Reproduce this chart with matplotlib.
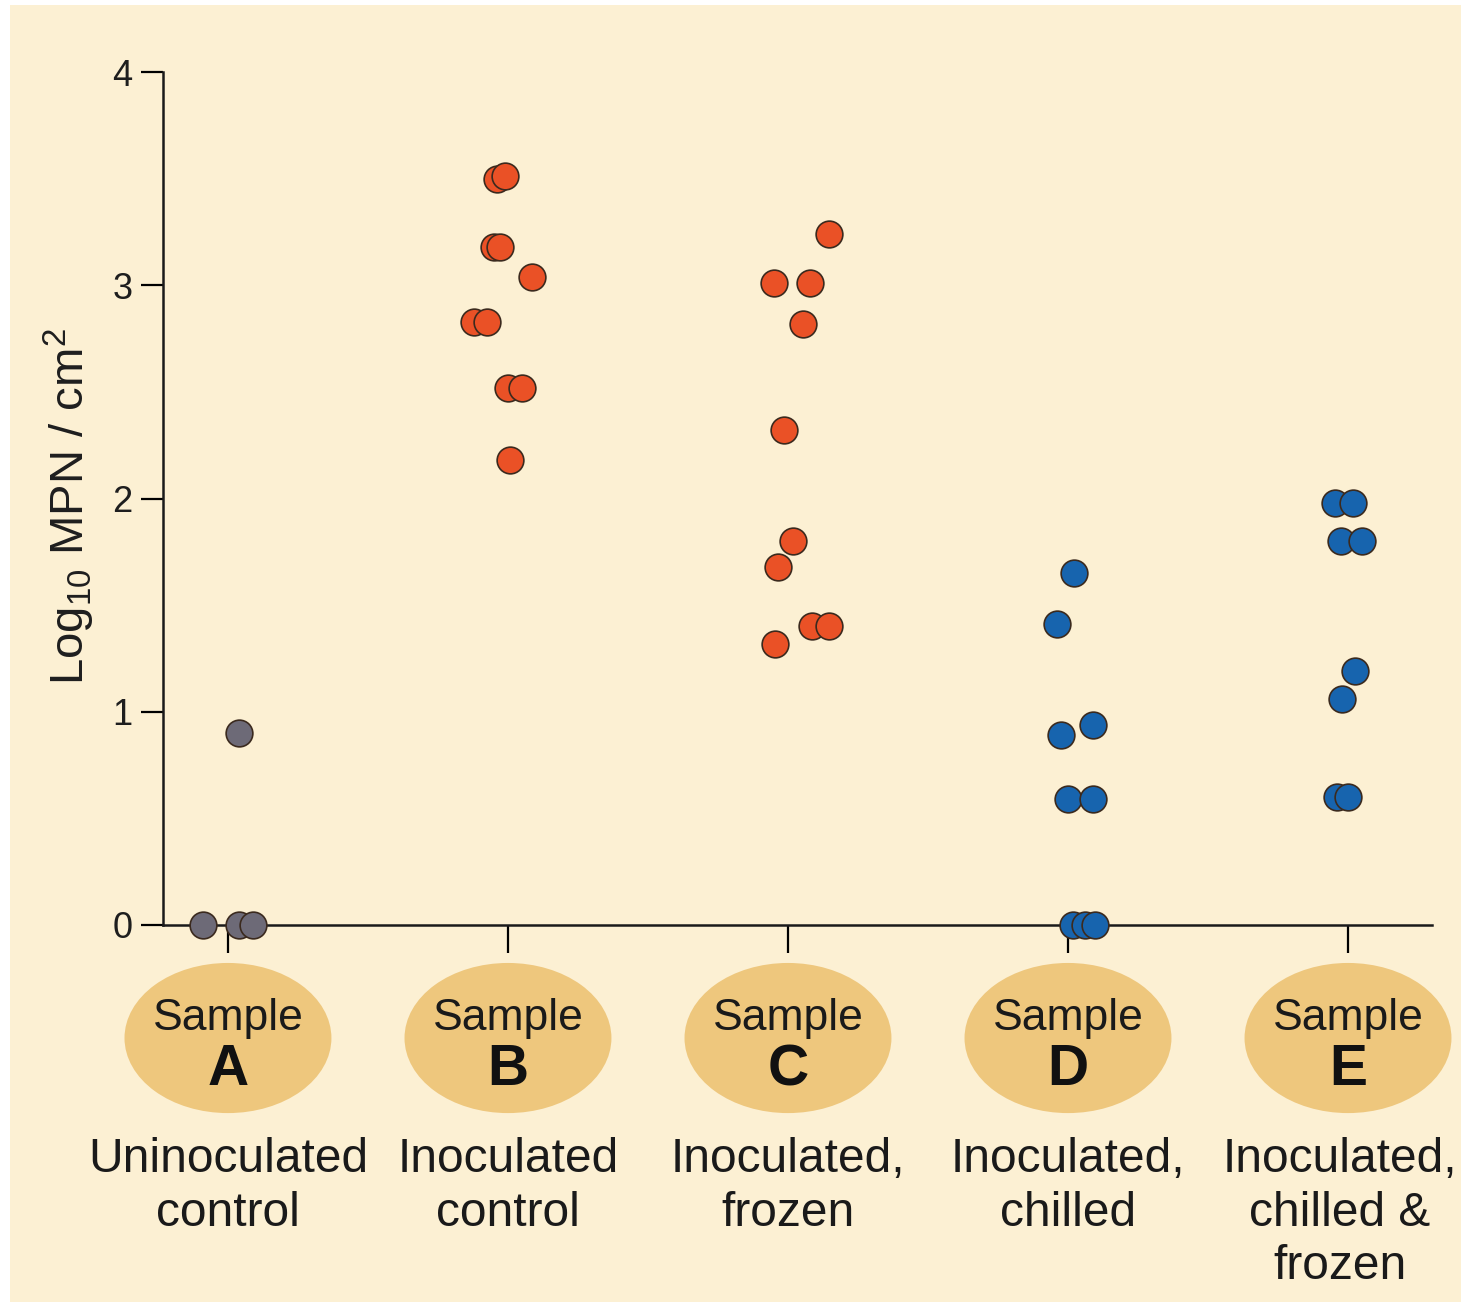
import numpy as np
import matplotlib
matplotlib.use("Agg")
import matplotlib.pyplot as plt
from matplotlib.patches import Ellipse, Rectangle

plt.rcParams['font.family'] = ['Liberation Sans', 'DejaVu Sans']
plt.rcParams['mathtext.fontset'] = 'custom'
plt.rcParams['mathtext.rm'] = 'Liberation Sans'
plt.rcParams['mathtext.it'] = 'Liberation Sans:italic'

# samples, labels
letters = ['A', 'B', 'C', 'D', 'E']
descriptions = ['Uninoculated\ncontrol', 'Inoculated\ncontrol', 'Inoculated,\nfrozen',
                'Inoculated,\nchilled', 'Inoculated,\nchilled &\nfrozen']

# log10 MPN/cm2 per sample, with horizontal jitter (category units)
a_vals = [0, 0, 0, 0.90]
a_off = [-0.09, 0.04, 0.09, 0.04]
b_vals = [3.50, 3.51, 3.18, 3.18, 3.04, 2.83, 2.83, 2.52, 2.52, 2.18]
b_off = [-0.04, -0.01, -0.05, -0.03, 0.086, -0.12, -0.075, 0.0, 0.05, 0.007]
c_vals = [3.24, 3.01, 3.01, 2.82, 2.32, 1.80, 1.68, 1.40, 1.40, 1.32]
c_off = [0.146, -0.05, 0.079, 0.054, -0.014, 0.018, -0.036, 0.086, 0.146, -0.046]
d_vals = [1.65, 1.41, 0.89, 0.94, 0.59, 0.59, 0, 0, 0]
d_off = [0.02, -0.04, -0.025, 0.09, 0.0, 0.09, 0.018, 0.06, 0.096]
e_vals = [1.98, 1.98, 1.80, 1.80, 1.19, 1.06, 0.60, 0.60]
e_off = [-0.046, 0.018, -0.025, 0.05, 0.025, -0.02, -0.04, 0.0]

groups = [(a_vals, a_off, '#6d6a77'), (b_vals, b_off, '#ea5126'), (c_vals, c_off, '#ea5126'),
          (d_vals, d_off, '#1764ae'), (e_vals, e_off, '#1764ae')]

W, H = 1461, 1306
fig = plt.figure(figsize=(W / 100, H / 100), dpi=100)
fig.patch.set_facecolor('white')
# cream panel behind everything
bg = Rectangle((10 / W, 4 / H), 1 - 10 / W, 1 - 9 / H, transform=fig.transFigure,
               facecolor='#fcf0d3', edgecolor='none', zorder=-10)
fig.add_artist(bg)

ax = fig.add_axes([163 / W, (H - 925) / H, (1432 - 163) / W, (925 - 72) / H])
ax.set_facecolor('none')
ax.set_zorder(1)

for i, (vals, off, col) in enumerate(groups):
    xs = i + np.array(off)
    ax.scatter(xs, vals, s=370, color=col, edgecolor='#3b2a1e', linewidth=1.2,
               zorder=3, clip_on=False)

ax.set_xlim(-0.232, 4.3)
ax.set_ylim(0, 4)
ax.set_yticks([0, 1, 2, 3, 4])
ax.set_xticks(range(5))
ax.tick_params(axis='y', length=16, width=1.6, pad=6, labelsize=26, labelcolor='#1e1e1e')
ax.tick_params(axis='x', length=20, width=1.6, labelbottom=False)
for side in ['top', 'right']:
    ax.spines[side].set_visible(False)
for side in ['left', 'bottom']:
    ax.spines[side].set_linewidth(1.8)
    ax.spines[side].set_color('#1a1a1a')

ax.set_ylabel(r'Log$_{10}$ MPN / cm$^{2}$', fontsize=34, color='#1e1e1e')
ax.yaxis.set_label_coords(-0.052, 0.49)

# ovals with sample names, descriptions underneath
for i in range(5):
    ax.add_patch(Ellipse((i, -0.53), 0.739, 0.704, facecolor='#eec77d', edgecolor='none',
                         clip_on=False, zorder=1))
    ax.text(i, -0.44, 'Sample', ha='center', va='center', fontsize=32, color='#1a1a1a')
    ax.text(i, -0.68, letters[i], ha='center', va='center', fontsize=41,
            fontweight='bold', color='#111111')
    # last description sits a touch left so it stays inside the panel
    dx = -0.03 if i == 4 else 0
    ax.text(i + dx, -0.995, descriptions[i], ha='center', va='top', fontsize=34.5,
            linespacing=1.24, color='#1a1a1a')

fig.savefig('out.png', dpi=100, facecolor=fig.get_facecolor())
